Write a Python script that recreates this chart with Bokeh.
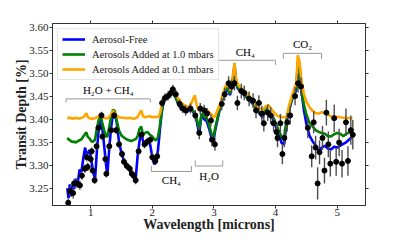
from bokeh.plotting import figure
from bokeh.models import LinearAxis, Range1d, FixedTicker, NumeralTickFormatter, CustomJSTickFormatter, Title
from bokeh.embed import file_html
from bokeh.resources import INLINE
from bokeh.core.properties import value

FONT = "Liberation Serif"

# ---------------- model spectra ----------------
model_wl = [0.62, 0.64, 0.66, 0.68, 0.70, 0.73, 0.76, 0.79, 0.82, 0.85, 0.88, 0.91, 0.93, 0.95, 0.98,
            1.01, 1.04, 1.07, 1.10, 1.13, 1.16, 1.19, 1.22, 1.25, 1.27, 1.30, 1.33, 1.36, 1.39, 1.42,
            1.46, 1.50, 1.54, 1.58, 1.62, 1.66, 1.70, 1.73, 1.76, 1.79, 1.82, 1.85, 1.88, 1.92, 1.96,
            2.00, 2.03, 2.06, 2.09, 2.12, 2.15, 2.18, 2.22, 2.26, 2.30, 2.34, 2.38, 2.42, 2.46, 2.50,
            2.55, 2.60, 2.65, 2.69, 2.72, 2.76, 2.80, 2.84, 2.88, 2.92, 2.96, 2.99, 3.02, 3.06, 3.10,
            3.14, 3.18, 3.22, 3.26, 3.30, 3.32, 3.335, 3.35, 3.38, 3.42, 3.46, 3.50, 3.55, 3.60, 3.65,
            3.69, 3.74, 3.79, 3.84, 3.89, 3.94, 3.98, 4.02, 4.06, 4.10, 4.14, 4.18, 4.22, 4.26, 4.30,
            4.34, 4.36, 4.39, 4.42, 4.46, 4.50, 4.55, 4.60, 4.65, 4.70, 4.75, 4.80, 4.85, 4.90, 4.95,
            5.00, 5.05, 5.10, 5.15, 5.20, 5.25]

aerosol_free = [3.250, 3.228, 3.258, 3.232, 3.255, 3.248, 3.270, 3.262, 3.290, 3.285, 3.315, 3.338, 3.322, 3.326, 3.332,
                3.310, 3.285, 3.268, 3.330, 3.378, 3.405, 3.378, 3.340, 3.300, 3.278, 3.335, 3.380, 3.412, 3.413, 3.395,
                3.350, 3.325, 3.310, 3.298, 3.292, 3.280, 3.272, 3.270, 3.318, 3.350, 3.372, 3.352, 3.345, 3.355, 3.348,
                3.318, 3.302, 3.305, 3.330, 3.372, 3.412, 3.436, 3.446, 3.453, 3.460, 3.455, 3.447, 3.433, 3.423, 3.425,
                3.414, 3.420, 3.418, 3.410, 3.396, 3.368, 3.410, 3.400, 3.396, 3.380, 3.360, 3.350, 3.375, 3.400, 3.425,
                3.443, 3.458, 3.468, 3.452, 3.478, 3.495, 3.515, 3.488, 3.468, 3.462, 3.458, 3.450, 3.446, 3.438, 3.430,
                3.418, 3.412, 3.403, 3.424, 3.413, 3.405, 3.394, 3.378, 3.362, 3.348, 3.345, 3.395, 3.418, 3.440, 3.452,
                3.465, 3.522, 3.490, 3.462, 3.420, 3.390, 3.364, 3.352, 3.343, 3.330, 3.338, 3.342, 3.336, 3.334, 3.340,
                3.338, 3.342, 3.346, 3.350, 3.356, 3.362]

aerosol_1mbar = [3.359, 3.356, 3.354, 3.352, 3.350, 3.351, 3.349, 3.352, 3.354, 3.356, 3.362, 3.368, 3.371, 3.362, 3.358,
                 3.352, 3.351, 3.355, 3.380, 3.398, 3.409, 3.390, 3.375, 3.363, 3.361, 3.382, 3.404, 3.420, 3.418, 3.398,
                 3.375, 3.364, 3.360, 3.356, 3.354, 3.352, 3.355, 3.356, 3.362, 3.378, 3.384, 3.366, 3.370, 3.372, 3.366,
                 3.362, 3.356, 3.354, 3.360, 3.382, 3.415, 3.437, 3.446, 3.452, 3.459, 3.455, 3.446, 3.435, 3.425, 3.428,
                 3.418, 3.421, 3.420, 3.413, 3.402, 3.378, 3.412, 3.405, 3.402, 3.388, 3.368, 3.360, 3.380, 3.404, 3.428,
                 3.446, 3.462, 3.470, 3.455, 3.482, 3.500, 3.522, 3.490, 3.471, 3.464, 3.460, 3.452, 3.448, 3.440, 3.432,
                 3.420, 3.415, 3.406, 3.425, 3.416, 3.408, 3.399, 3.386, 3.372, 3.362, 3.358, 3.400, 3.422, 3.443, 3.456,
                 3.470, 3.525, 3.500, 3.466, 3.432, 3.410, 3.392, 3.384, 3.376, 3.372, 3.370, 3.368, 3.363, 3.362, 3.367,
                 3.370, 3.368, 3.363, 3.368, 3.371, 3.376]

aerosol_01mbar = [3.403, 3.402, 3.404, 3.401, 3.402, 3.401, 3.403, 3.402, 3.401, 3.403, 3.404, 3.409, 3.413, 3.405, 3.402,
                  3.401, 3.401, 3.402, 3.404, 3.406, 3.410, 3.405, 3.403, 3.402, 3.401, 3.405, 3.410, 3.418, 3.414, 3.407,
                  3.404, 3.403, 3.403, 3.402, 3.403, 3.402, 3.401, 3.402, 3.404, 3.412, 3.419, 3.406, 3.404, 3.405, 3.406,
                  3.404, 3.405, 3.404, 3.405, 3.410, 3.428, 3.442, 3.450, 3.454, 3.461, 3.458, 3.452, 3.445, 3.437, 3.432,
                  3.428, 3.426, 3.440, 3.452, 3.430, 3.418, 3.421, 3.418, 3.420, 3.416, 3.410, 3.404, 3.406, 3.420, 3.432,
                  3.452, 3.470, 3.477, 3.462, 3.490, 3.505, 3.522, 3.495, 3.478, 3.470, 3.466, 3.458, 3.455, 3.446, 3.440,
                  3.426, 3.424, 3.419, 3.428, 3.430, 3.420, 3.414, 3.408, 3.406, 3.404, 3.404, 3.405, 3.430, 3.448, 3.465,
                  3.480, 3.539, 3.525, 3.485, 3.455, 3.438, 3.426, 3.418, 3.413, 3.412, 3.415, 3.414, 3.410, 3.406, 3.404,
                  3.405, 3.404, 3.403, 3.403, 3.402, 3.402]

# ---------------- observed data ----------------
data_wl = [0.635, 0.667, 0.714, 0.730, 0.778, 0.825, 0.857, 0.905, 0.937, 0.952,
           1.000, 1.016, 1.032, 1.063, 1.095, 1.127, 1.175, 1.190, 1.238, 1.254,
           1.302, 1.333, 1.381, 1.413, 1.460, 1.508, 1.540, 1.587, 1.635, 1.667,
           1.698, 1.730, 1.778, 1.825, 1.873, 1.921, 1.968, 2.000, 2.048, 2.079,
           2.159, 2.206, 2.254, 2.302, 2.333, 2.381, 2.444, 2.492, 2.540, 2.619,
           2.698, 2.762, 2.778, 2.841, 2.889, 2.952, 2.968, 3.016,
           3.127, 3.175, 3.238, 3.286, 3.333, 3.381, 3.444, 3.492,
           3.571, 3.635, 3.683, 3.730, 3.778, 3.810, 3.873, 3.921, 3.968, 4.016, 4.032, 4.079,
           4.111, 4.143, 4.190, 4.238, 4.317, 4.365, 4.413,
           4.524, 4.587, 4.619, 4.651, 4.683, 4.714, 4.762, 4.794, 4.825, 4.857,
           4.889, 4.952, 4.984, 5.032, 5.079, 5.143, 5.175, 5.222, 5.254]

data_depth = [3.218, 3.243, 3.239, 3.260, 3.260, 3.256, 3.277, 3.292, 3.317, 3.296,
              3.313, 3.330, 3.288, 3.267, 3.341, 3.381, 3.408, 3.362, 3.313, 3.281,
              3.341, 3.376, 3.408, 3.376, 3.345, 3.324, 3.307, 3.298, 3.292, 3.281,
              3.277, 3.267, 3.330, 3.366, 3.345, 3.351, 3.355, 3.317, 3.309, 3.319,
              3.435, 3.446, 3.450, 3.457, 3.465, 3.454, 3.433, 3.423, 3.419, 3.423,
              3.408, 3.370, 3.423, 3.419, 3.412, 3.397, 3.355, 3.345,
              3.433, 3.454, 3.478, 3.471, 3.478, 3.435, 3.461, 3.457,
              3.444, 3.440, 3.419, 3.435, 3.412, 3.391, 3.414, 3.408, 3.391, 3.372, 3.359, 3.391,
              3.324, 3.359, 3.393, 3.408, 3.450, 3.478, 3.471,
              3.381, 3.319, 3.393, 3.338, 3.260, 3.328, 3.359, 3.288, 3.414, 3.345,
              3.303, 3.402, 3.307, 3.349, 3.303, 3.393, 3.309, 3.376, 3.366]

data_err = [0.010, 0.012, 0.012, 0.010, 0.010, 0.010, 0.009, 0.009, 0.009, 0.009,
            0.008, 0.008, 0.008, 0.008, 0.008, 0.008, 0.008, 0.008, 0.008, 0.008,
            0.008, 0.008, 0.008, 0.008, 0.008, 0.008, 0.008, 0.008, 0.008, 0.008,
            0.008, 0.009, 0.009, 0.009, 0.009, 0.009, 0.009, 0.009, 0.009, 0.009,
            0.010, 0.010, 0.010, 0.010, 0.010, 0.010, 0.010, 0.010, 0.011, 0.011,
            0.012, 0.014, 0.012, 0.012, 0.012, 0.013, 0.014, 0.014,
            0.014, 0.014, 0.015, 0.015, 0.016, 0.016, 0.016, 0.016,
            0.016, 0.016, 0.017, 0.017, 0.017, 0.018, 0.018, 0.018, 0.018, 0.020, 0.020, 0.020,
            0.022, 0.020, 0.020, 0.020, 0.020, 0.020, 0.020,
            0.022, 0.024, 0.024, 0.026, 0.035, 0.026, 0.026, 0.028, 0.028, 0.028,
            0.028, 0.030, 0.030, 0.030, 0.030, 0.030, 0.032, 0.032, 0.032]

# ---------------- band annotations ----------------
band_labels = ["H\u2082O + CH\u2084", "CH\u2084", "CO\u2082", "CH\u2084", "H\u2082O"]
band_start = [0.60, 3.016, 4.127, 1.984, 2.698]
band_end = [1.968, 4.000, 4.746, 2.635, 3.143]
band_level = [3.444, 3.528, 3.543, 3.286, 3.298]
band_tip = [3.436, 3.518, 3.531, 3.298, 3.310]
label_level = [3.463, 3.546, 3.563, 3.268, 3.277]

y_ticks = [3.25, 3.30, 3.35, 3.40, 3.45, 3.50, 3.55, 3.60]
x_ticks = [1, 2, 3, 4, 5]

p = figure(width=399, height=234, output_backend="svg", toolbar_location=None,
           x_range=Range1d(0.38, 5.46), y_range=Range1d(3.212, 3.608),
           min_border_left=0, min_border_right=34, min_border_top=0, min_border_bottom=0)

p.background_fill_color = "white"
p.border_fill_color = "white"
p.outline_line_color = "#333333"
p.outline_line_width = 1
p.xgrid.visible = False
p.ygrid.visible = False

p.line(model_wl, aerosol_free, line_color="#0000ff", line_width=2.6, legend_label="Aerosol-Free")
p.line(model_wl, aerosol_1mbar, line_color="#008000", line_width=2.6, legend_label="Aerosols Added at 1.0 mbars")
p.line(model_wl, aerosol_01mbar, line_color="#ffa500", line_width=2.6, legend_label="Aerosols Added at 0.1 mbars")

lo = [d - e for d, e in zip(data_depth, data_err)]
hi = [d + e for d, e in zip(data_depth, data_err)]
p.segment(x0=data_wl, y0=lo, x1=data_wl, y1=hi, line_color="#4d4d4d", line_width=1.4)
p.scatter(data_wl, data_depth, size=5, fill_color="black", line_color="black")

for lab, x0, x1, yl, yt, ly in zip(band_labels, band_start, band_end, band_level, band_tip, label_level):
    p.line([x0, x0, x1, x1], [yt, yl, yl, yt], line_color="#999999", line_width=1)
    p.text(x=[(x0 + x1) / 2], y=[ly], text=[lab], text_font=value(FONT), text_font_size="11px",
           text_align="center", text_baseline="middle", text_color="black")

def style_axis(ax, show_labels):
    ax.axis_line_color = "#333333"
    ax.major_tick_line_color = "#333333"
    ax.major_tick_in = 0
    ax.major_tick_out = 3
    ax.minor_tick_line_color = None
    ax.major_label_text_font = FONT
    ax.major_label_text_font_size = "11px"
    ax.major_label_text_color = "#222222"
    ax.major_label_text_line_height = 0.9
    ax.major_label_standoff = 1
    if not show_labels:
        ax.formatter = CustomJSTickFormatter(code="return ''")

xa = p.xaxis[0]
ya = p.yaxis[0]
xa.ticker = FixedTicker(ticks=x_ticks)
ya.ticker = FixedTicker(ticks=y_ticks)
ya.formatter = NumeralTickFormatter(format="0.00")
style_axis(xa, True)
style_axis(ya, True)
xa.major_label_standoff = 0
xa.axis_label = "Wavelength [microns]"
ya.axis_label = "Transit Depth [%]"
for ax in (xa, ya):
    ax.axis_label_text_font = FONT
    ax.axis_label_text_font_style = "bold"
    ax.axis_label_text_font_size = "14px"
    ax.axis_label_text_color = "#222222"
    ax.axis_label_text_line_height = 0.9
xa.axis_label_standoff = -2
ya.axis_label_standoff = -3

top = LinearAxis(ticker=FixedTicker(ticks=x_ticks))
style_axis(top, False)
p.add_layout(top, "above")
right = LinearAxis(ticker=FixedTicker(ticks=y_ticks))
style_axis(right, False)
p.add_layout(right, "right")

# blank spacers reproducing the reference's outer whitespace
p.title.text = " "
p.title.text_font_size = "15px"
p.title.standoff = 1
p.title.offset = 0
left_pad = Title(text=" ", text_font_size="8px", standoff=0, offset=0)
p.add_layout(left_pad, "left")

leg = p.legend[0]
leg.location = "top_left"
leg.margin = 5
leg.padding = 4
leg.spacing = 3
leg.label_height = 12
leg.glyph_height = 12
leg.glyph_width = 23
leg.label_standoff = 7
leg.label_text_font = FONT
leg.label_text_font_size = "10.5px"
leg.label_text_color = "#222222"
leg.border_line_color = "#cccccc"
leg.border_line_width = 1
leg.background_fill_alpha = 0.85

open("out.html", "w").write(file_html(p, INLINE))
